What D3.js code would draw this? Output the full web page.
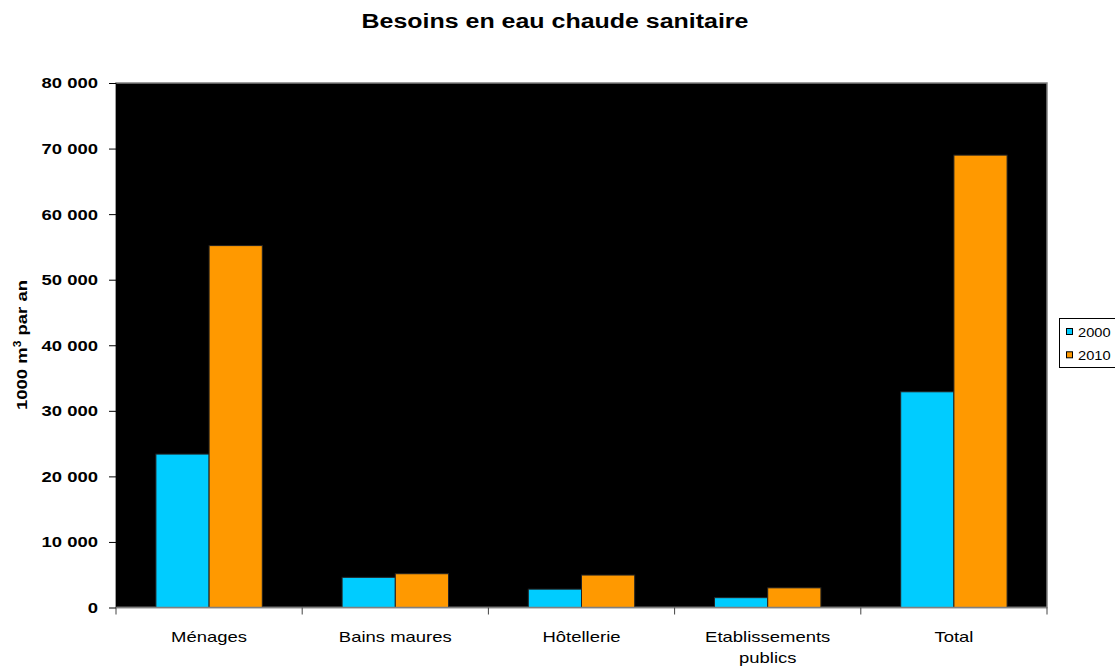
<!DOCTYPE html>
<html>
<head>
<meta charset="utf-8">
<script src="https://cdn.jsdelivr.net/npm/d3@7"></script>
<style>
  body { margin: 0; background: #fff; }
  text { font-family: "Liberation Sans", Arial, sans-serif; fill: #000; }
</style>
</head>
<body>
<svg id="chart" width="1115" height="668"></svg>
<script>
// Hot water needs, thousands of m³ per year
const categories = ["Ménages", "Bains maures", "Hôtellerie", "Etablissements publics", "Total"];
const seriesNames = ["2000", "2010"];
const values2000 = [23400, 4600, 2800, 1500, 32900];
const values2010 = [55200, 5150, 4950, 3000, 69000];
const yTickValues = [0, 10000, 20000, 30000, 40000, 50000, 60000, 70000, 80000];
const seriesColors = ["#00CCFF", "#FF9900"];

const series = [values2000, values2010];
const rows = categories.map((c, i) => ({ category: c, values: series.map(s => s[i]) }));

const W = 1115, H = 668;
const plot = { left: 116, right: 1047, top: 83, bottom: 607.5 };
const SX = 1.2; // horizontal text stretch

const svg = d3.select("#chart");

const fr = d3.formatLocale({ decimal: ",", thousands: " ", grouping: [3], currency: ["", " €"] });
const fmt = fr.format(",");

const x = d3.scaleBand().domain(categories).range([plot.left, plot.right]).paddingInner(0).paddingOuter(0);
const inner = d3.scaleBand().domain(seriesNames).range([0, x.bandwidth()]).paddingInner(0).paddingOuter(0.75);
const y = d3.scaleLinear().domain([0, 80000]).range([plot.bottom, plot.top]);

// plot background
svg.append("rect")
  .attr("x", plot.left).attr("y", plot.top)
  .attr("width", plot.right - plot.left).attr("height", plot.bottom - plot.top)
  .attr("fill", "#000")
  .attr("stroke", "#808080").attr("stroke-width", 1.5);

// bars
const groups = svg.append("g").selectAll("g").data(rows).join("g")
  .attr("transform", d => `translate(${x(d.category)},0)`);
groups.selectAll("rect").data(d => d.values.map((v, i) => ({ v, i })))
  .join("rect")
  .attr("x", d => inner(seriesNames[d.i]))
  .attr("width", inner.bandwidth())
  .attr("y", d => y(d.v))
  .attr("height", d => y(0) - y(d.v))
  .attr("fill", d => seriesColors[d.i])
  .attr("stroke", "#222").attr("stroke-width", 1);

// y axis
const yAxis = svg.append("g")
  .attr("transform", `translate(${plot.left},0)`)
  .call(d3.axisLeft(y).tickValues(yTickValues).tickFormat(fmt).tickSize(7).tickSizeOuter(0));
yAxis.select(".domain").attr("stroke", "#000").attr("stroke-width", 1);
yAxis.selectAll(".tick line").attr("stroke", "#000");
yAxis.selectAll(".tick text")
  .attr("x", -18 / SX)
  .attr("transform", `scale(${SX},1)`)
  .style("font-size", "15.4px").style("font-weight", "bold")
  .attr("fill", "#000");

// x axis
const xAxis = svg.append("g")
  .attr("transform", `translate(0,${plot.bottom})`);
xAxis.append("line")
  .attr("x1", plot.left).attr("x2", plot.right)
  .attr("stroke", "#808080").attr("stroke-width", 1.5);
const boundaries = categories.map(c => x(c)).concat([plot.right]);
xAxis.selectAll("line.tk").data(boundaries).join("line").attr("class", "tk")
  .attr("x1", d => d).attr("x2", d => d).attr("y1", 0).attr("y2", 7)
  .attr("stroke", "#444").attr("stroke-width", 1);

// category labels, wrapped on two lines where needed
const labelLines = { "Etablissements publics": ["Etablissements", "publics"] };
categories.forEach(c => {
  const lines = labelLines[c] || [c];
  lines.forEach((ln, k) => {
    svg.append("text")
      .attr("transform", `translate(${x(c) + x.bandwidth() / 2},${642 + k * 21}) scale(${SX},1)`)
      .attr("text-anchor", "middle")
      .style("font-size", "15.4px")
      .text(ln);
  });
});

// y axis title
const yt = svg.append("text")
  .attr("transform", `translate(27,345) rotate(-90) scale(${SX},1)`)
  .attr("text-anchor", "middle")
  .style("font-size", "15.4px").style("font-weight", "bold");
yt.append("tspan").text("1000 m");
yt.append("tspan").attr("dy", -6).style("font-size", "10px").text("3");
yt.append("tspan").attr("dy", 6).text(" par an");

// chart title
svg.append("text")
  .attr("transform", `translate(555,28) scale(${SX},1)`)
  .attr("text-anchor", "middle")
  .style("font-size", "20.8px").style("font-weight", "bold")
  .text("Besoins en eau chaude sanitaire");

// legend
const lg = svg.append("g");
lg.append("rect").attr("x", 1059.5).attr("y", 318.5).attr("width", 70).attr("height", 49)
  .attr("fill", "#fff").attr("stroke", "#000").attr("stroke-width", 1);
seriesNames.forEach((s, i) => {
  const yy = 336.5 + i * 23.3;
  lg.append("rect").attr("x", 1066.5).attr("y", yy - 8).attr("width", 6).attr("height", 6)
    .attr("fill", seriesColors[i]).attr("stroke", "#000").attr("stroke-width", 1);
  lg.append("text")
    .attr("transform", `translate(1078,${yy}) scale(${SX},1)`)
    .style("font-size", "12.2px")
    .text(s);
});
</script>
</body>
</html>
